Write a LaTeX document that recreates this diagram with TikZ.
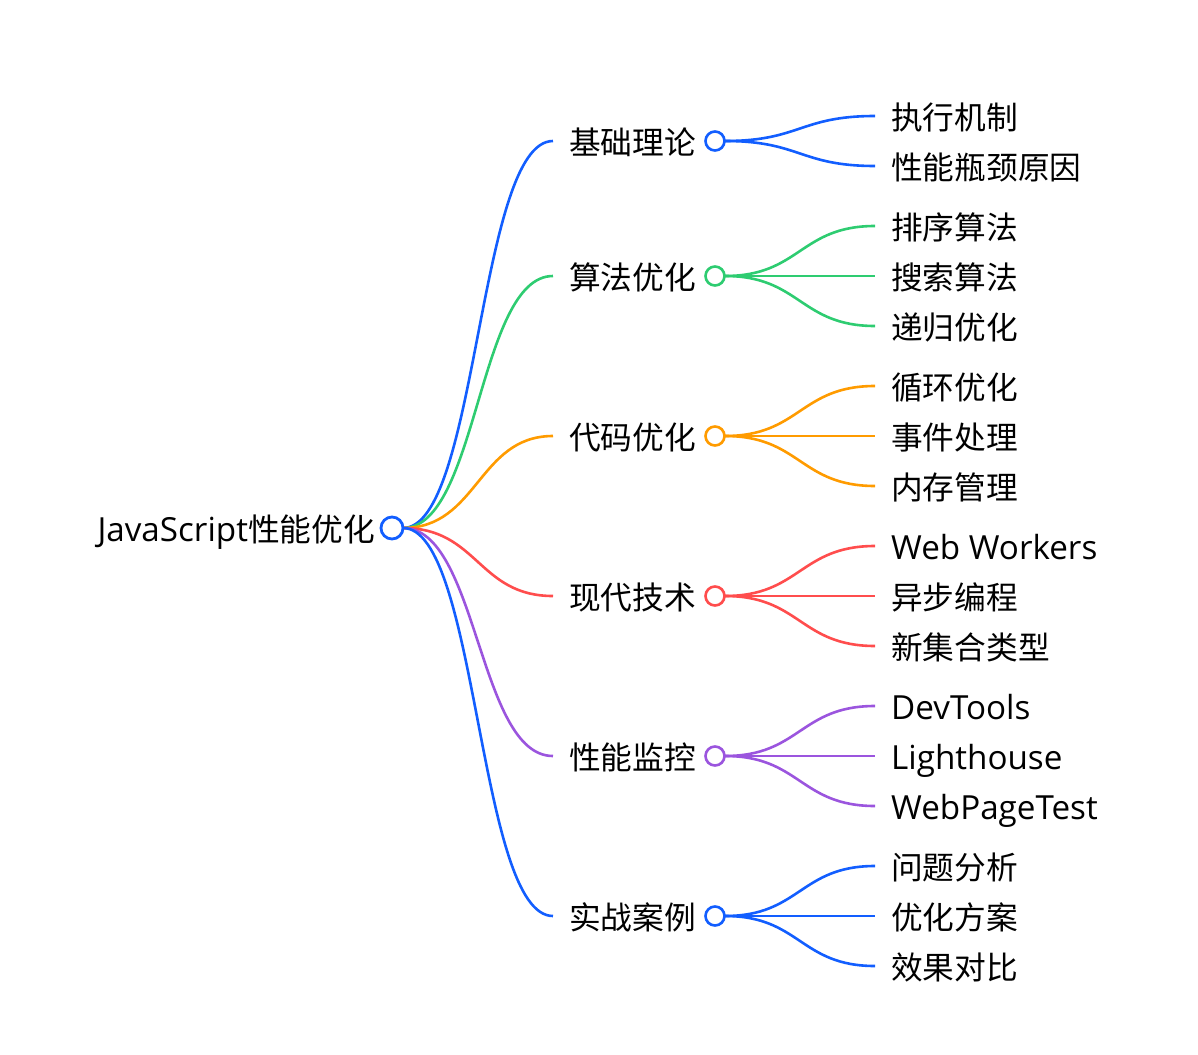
\documentclass[tikz,border=0pt]{standalone}
\usepackage{fontspec}
\setmainfont{Open Sans}
\newfontfamily\cjk{Noto Sans CJK SC}
\definecolor{cblue}{RGB}{18,94,255}
\definecolor{cgreen}{RGB}{46,204,113}
\definecolor{corange}{RGB}{255,155,0}
\definecolor{cred}{RGB}{255,77,77}
\definecolor{cpurple}{RGB}{155,85,222}
\begin{document}
\begin{tikzpicture}[x=1pt,y=-1pt,
  lk/.style={line width=2.6pt},
  dot/.style={circle, draw=#1, fill=white, line width=2.6pt, minimum size=19pt, inner sep=0pt},
  rootdot/.style={circle, draw=#1, fill=white, line width=2.8pt, minimum size=22pt, inner sep=0pt},
  lab/.style={anchor=base west, inner sep=0pt, font=\cjk\fontsize{31.7}{32}\selectfont},
  latlab/.style={anchor=base west, inner sep=0pt, font=\fontsize{33.2}{34}\selectfont}]
\useasboundingbox (0,0) rectangle (1198,1054);
% root
\node[anchor=base east, inner sep=0pt, font=\fontsize{33.2}{34}\selectfont] (roottxt) at (375,541) {JavaScript{\cjk\fontsize{31.7}{32}\selectfont 性能优化}};
\coordinate (rs) at (403,528);
% level-1 end points
\foreach \n/\y/\c in {a/141/cblue, b/276/cgreen, c/436/corange, d/596/cred, e/756/cpurple, f/916/cblue}{
  \coordinate (\n e) at (553,\y);
  \draw[lk,\c] (rs) .. controls (478,528) and (478,\y) .. (\n e);
}
% level-2 curves
\foreach \p/\y/\c/\ys in {a/141/cblue/{116,166}, b/276/cgreen/{226,276,326}, c/436/corange/{386,436,486}, d/596/cred/{546,596,646}, e/756/cpurple/{706,756,806}, f/916/cblue/{866,916,966}}{
  \coordinate (\p s) at (725,\y);
  \foreach \yy in \ys {
    \coordinate (\p\yy) at (875,\yy);
    \draw[lk,\c] (\p s) .. controls (800,\y) and (800,\yy) .. (\p\yy);
  }
}
% circles
\node[rootdot=cblue] (root) at (392,528) {};
\node[dot=cblue] (ac) at (715,141) {};
\node[dot=cgreen] (bc) at (715,276) {};
\node[dot=corange] (cc) at (715,436) {};
\node[dot=cred] (dc) at (715,596) {};
\node[dot=cpurple] (ec) at (715,756) {};
\node[dot=cblue] (fc) at (715,916) {};
% level-1 labels
\node[lab] (at) at (569,154) {基础理论};
\node[lab] (bt) at (569,289) {算法优化};
\node[lab] (ct) at (569,449) {代码优化};
\node[lab] (dt) at (569,609) {现代技术};
\node[lab] (et) at (569,769) {性能监控};
\node[lab] (ft) at (569,929) {实战案例};
% level-2 labels
\node[lab] (a1) at (891,129) {执行机制};
\node[lab] (a2) at (891,179) {性能瓶颈原因};
\node[lab] (b1) at (891,239) {排序算法};
\node[lab] (b2) at (891,289) {搜索算法};
\node[lab] (b3) at (891,339) {递归优化};
\node[lab] (c1) at (891,399) {循环优化};
\node[lab] (c2) at (891,449) {事件处理};
\node[lab] (c3) at (891,499) {内存管理};
\node[latlab] (d1) at (891,559) {Web Workers};
\node[lab] (d2) at (891,609) {异步编程};
\node[lab] (d3) at (891,659) {新集合类型};
\node[latlab] (e1) at (891,719) {DevTools};
\node[latlab] (e2) at (891,769) {Lighthouse};
\node[latlab] (e3) at (891,819) {WebPageTest};
\node[lab] (f1) at (891,879) {问题分析};
\node[lab] (f2) at (891,929) {优化方案};
\node[lab] (f3) at (891,979) {效果对比};
\end{tikzpicture}
\end{document}
